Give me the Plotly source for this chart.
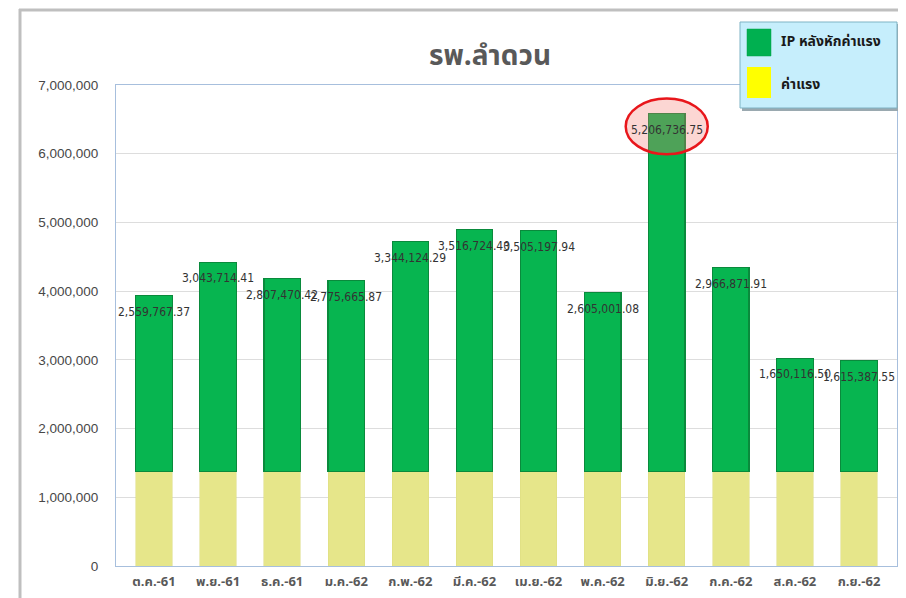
import plotly.graph_objects as go

months = ["ต.ค.-61", "พ.ย.-61", "ธ.ค.-61", "ม.ค.-62", "ก.พ.-62", "มี.ค.-62",
          "เม.ย.-62", "พ.ค.-62", "มิ.ย.-62", "ก.ค.-62", "ส.ค.-62", "ก.ย.-62"]
ip_after_wage = [2559767.37, 3043714.41, 2807470.42, 2775665.87, 3344124.29, 3516724.40,
                 3505197.94, 2605001.08, 5206736.75, 2966871.91, 1650116.50, 1615387.55]
wage = [1375000] * 12
series_names = ["IP หลังหักค่าแรง", "ค่าแรง"]
title_text = "รพ.ลำดวน"
highlight_idx = 8

totals = [a + b for a, b in zip(ip_after_wage, wage)]
labels = [f"{v:,.2f}" for v in ip_after_wage]

THAI = "Tahoma, 'Noto Sans Thai', 'Noto Sans', 'DejaVu Sans', sans-serif"
NARROW = "'DejaVu Sans Condensed', 'Liberation Sans Narrow', 'Arial Narrow', sans-serif"

# page offset of the figure (default body margin)
OFF = 8
W, H = 906 - OFF, 598 - OFF

fig = go.Figure()
fig.add_bar(x=months, y=wage, name=series_names[1],
            marker=dict(color="#E6E68A", line=dict(color="#DCDC80", width=0.5)),
            showlegend=False)
fig.add_bar(x=months, y=ip_after_wage, name=series_names[0],
            marker=dict(color="#07B550", line=dict(color="#0A8A3C", width=1.2)),
            showlegend=False)

# plot-area pixel mapping helpers in page pixels (decorations only)
L, R, T, B = 116, 897, 85, 566
def px(x): return (x - L) / (R - L)
def py(y): return (B - y) / (B - T)

annotations = []
for m, tot, lab in zip(months, totals, labels):
    annotations.append(dict(x=m, y=tot, xref="x", yref="y", text=lab, showarrow=False,
                            xanchor="center", yanchor="top", yshift=-7,
                            font=dict(family=NARROW, size=12, color="#333333")))

shapes = []
# outer chart frame (gray)
shapes.append(dict(type="line", xref="paper", yref="paper", x0=px(20), x1=px(20), y0=py(610), y1=py(9),
                   line=dict(color="#BFBFBF", width=3)))
shapes.append(dict(type="line", xref="paper", yref="paper", x0=px(19), x1=px(920), y0=py(10), y1=py(10),
                   line=dict(color="#BFBFBF", width=3)))
# highlight ellipse around the max label
hy = totals[highlight_idx]
shapes.append(dict(type="circle", xref="x", yref="y", x0=highlight_idx - 0.64, x1=highlight_idx + 0.64,
                   y0=hy - 590000, y1=hy + 220000,
                   fillcolor="rgba(245,120,110,0.30)", line=dict(color="#E8161B", width=2.5),
                   layer="above"))
# legend box
shapes.append(dict(type="rect", xref="paper", yref="paper", x0=px(742), x1=px(899), y0=py(111), y1=py(24),
                   fillcolor="#9aa9b0", line=dict(width=0), layer="above"))
shapes.append(dict(type="rect", xref="paper", yref="paper", x0=px(740), x1=px(897), y0=py(108), y1=py(22),
                   fillcolor="#C6EEFC", line=dict(color="#7FB3C4", width=1), layer="above"))
shapes.append(dict(type="rect", xref="paper", yref="paper", x0=px(747), x1=px(771), y0=py(56), y1=py(29),
                   fillcolor="#00B050", line=dict(color="#00A048", width=0.5), layer="above"))
shapes.append(dict(type="rect", xref="paper", yref="paper", x0=px(747), x1=px(771), y0=py(98), y1=py(67),
                   fillcolor="#FFFF00", line=dict(width=0), layer="above"))

annotations += [
    dict(xref="paper", yref="paper", x=px(779), y=py(42), text=f"<b>{series_names[0]}</b>",
         showarrow=False, xanchor="left", yanchor="middle",
         font=dict(family=THAI, size=14, color="#1a1a1a")),
    dict(xref="paper", yref="paper", x=px(779), y=py(84), text=f"<b>{series_names[1]}</b>",
         showarrow=False, xanchor="left", yanchor="middle",
         font=dict(family=THAI, size=14, color="#1a1a1a")),
]

fig.update_layout(
    width=W, height=H,
    margin=dict(l=L - OFF, r=W - (R - OFF), t=T - OFF, b=H - (B - OFF), autoexpand=False),
    barmode="stack", bargap=0.43,
    paper_bgcolor="white", plot_bgcolor="white",
    title=dict(text=f"<b>{title_text}</b>", x=(490 - OFF) / W, xanchor="center",
               y=1 - (55 - OFF) / H, yanchor="middle", yref="container",
               font=dict(family=THAI, size=28, color="#595959")),
    shapes=shapes, annotations=annotations,
    showlegend=False,
    xaxis=dict(showline=True, linecolor="#A7BFDD", linewidth=1, mirror=True, automargin=False,
               ticks="", tickfont=dict(family=THAI, size=13, color="#595959", weight="bold"),
               ticklabelstandoff=3, fixedrange=True),
    yaxis=dict(range=[0, 7000000], dtick=1000000, tickformat=",d", automargin=False,
               showgrid=True, gridcolor="#DDDDDD", gridwidth=1,
               showline=True, linecolor="#A7BFDD", linewidth=1, mirror=True,
               zeroline=False, ticks="",
               tickfont=dict(family="Tahoma, 'Liberation Sans', Arial, sans-serif", size=13.5, color="#474747"),
               ticklabelstandoff=14),
)

fig.write_html("out.html")
